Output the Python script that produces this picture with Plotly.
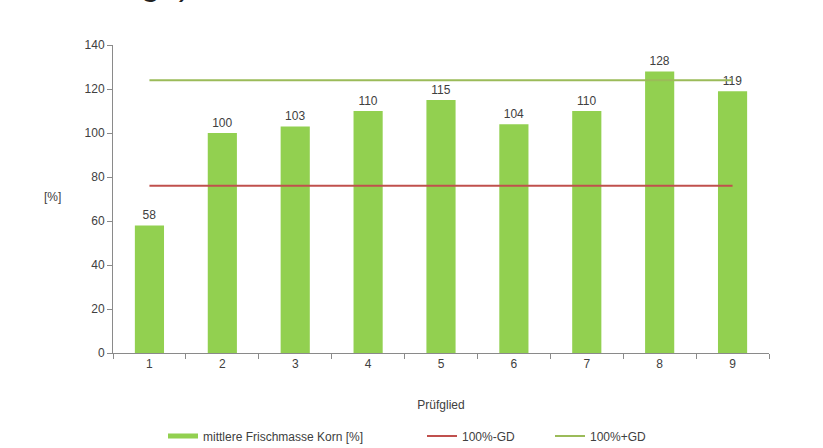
import plotly.graph_objects as go

# Prüfglieder and mean fresh grain mass relative to control
categories = ["1", "2", "3", "4", "5", "6", "7", "8", "9"]
frischmasse = [58, 100, 103, 110, 115, 104, 110, 128, 119]
gd_lower = 76   # 100 % minus Grenzdifferenz
gd_upper = 124  # 100 % plus Grenzdifferenz
y_ticks = [0, 20, 40, 60, 80, 100, 120, 140]

font = "Liberation Sans, Arial, sans-serif"
txt = "#404040"
axis_col = "#8a8a8a"
bar_col = "#92d050"

fig = go.Figure()
fig.add_trace(go.Bar(
    x=categories, y=frischmasse,
    name="mittlere Frischmasse Korn [%]",
    marker=dict(color=bar_col, line=dict(width=0)),
    text=[str(v) for v in frischmasse], textposition="outside",
    textfont=dict(family=font, size=12, color=txt),
    cliponaxis=False, showlegend=False,
))
# legend key for the bars, drawn as a short thick stroke
fig.add_trace(go.Scatter(
    x=[None], y=[None], mode="lines",
    name="mittlere Frischmasse Korn [%]",
    line=dict(color=bar_col, width=5), legend="legend",
))
fig.add_trace(go.Scatter(
    x=[categories[0], categories[-1]], y=[gd_lower, gd_lower],
    mode="lines", name="100%-GD",
    line=dict(color="#c0504d", width=2), legend="legend2",
))
fig.add_trace(go.Scatter(
    x=[categories[0], categories[-1]], y=[gd_upper, gd_upper],
    mode="lines", name="100%+GD",
    line=dict(color="#9bbb59", width=2), legend="legend3",
))

legend_common = dict(
    orientation="h", xref="container", yref="container",
    y=0.027, yanchor="middle", xanchor="left",
    font=dict(family=font, size=12, color=txt),
    bgcolor="rgba(0,0,0,0)", itemwidth=30,
)

fig.update_layout(
    width=823, height=448,
    margin=dict(l=113, r=54, t=45, b=95, autoexpand=False),
    paper_bgcolor="white", plot_bgcolor="white",
    font=dict(family=font, size=12, color=txt),
    bargap=0.6,
    showlegend=True,
    legend=dict(x=163 / 823, **legend_common),
    legend2=dict(x=422 / 823, **legend_common),
    legend3=dict(x=550 / 823, **legend_common),
    xaxis=dict(
        type="category", range=[-0.5, 8.5], automargin=False,
        showline=True, linecolor=axis_col, linewidth=1,
        ticks="outside", tickson="boundaries", ticklen=5, tickcolor=axis_col,
        showgrid=False, zeroline=False,
        tickfont=dict(family=font, size=12, color=txt),
        title=dict(text="Prüfglied", font=dict(family=font, size=12, color=txt), standoff=30),
    ),
    yaxis=dict(
        range=[0, 140], tickvals=y_ticks, automargin=False,
        showline=True, linecolor=axis_col, linewidth=1,
        ticks="outside", ticklen=5, tickcolor=axis_col,
        showgrid=False, zeroline=False,
        tickfont=dict(family=font, size=12, color=txt),
    ),
    annotations=[
        dict(text="[%]", xref="paper", yref="paper", x=-0.092, y=0.508,
             xanchor="center", yanchor="middle", showarrow=False,
             font=dict(family=font, size=12, color=txt)),
        dict(text="ge)", xref="paper", yref="paper", x=0.04, y=1.0,
             xanchor="left", yanchor="bottom", yshift=41.5, showarrow=False,
             font=dict(family=font, size=34, color="#222")),
    ],
)
fig.write_html("out.html")
